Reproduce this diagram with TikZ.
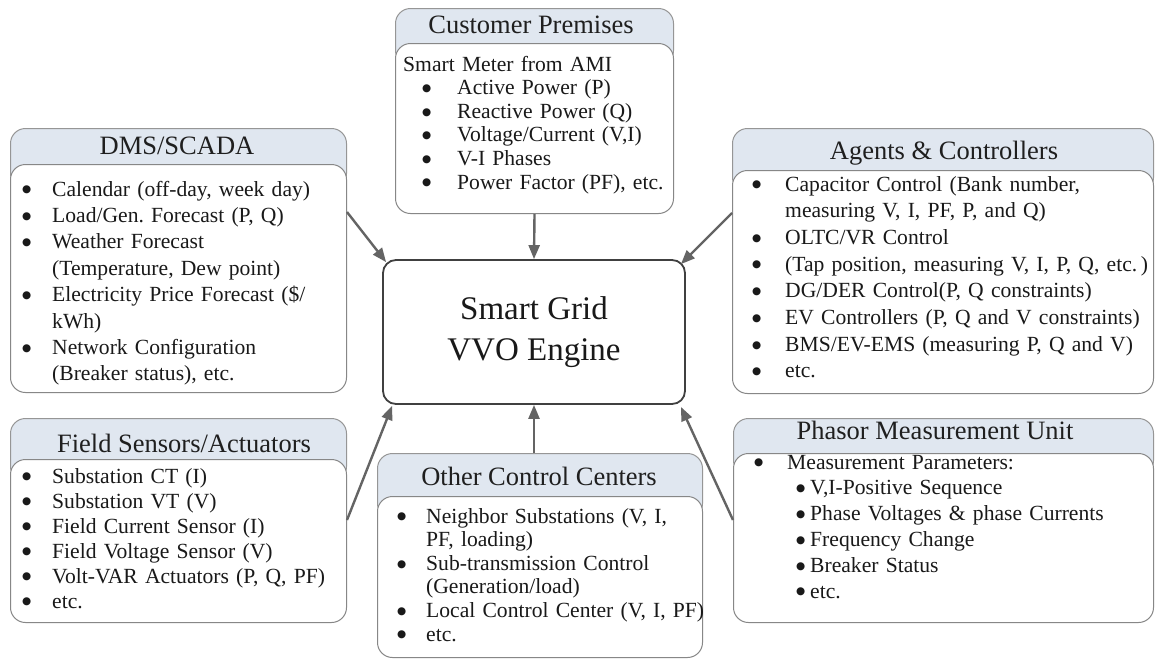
\documentclass[tikz,border=0pt]{standalone}
\usepackage{fontspec}
\setmainfont{Liberation Serif}
\newfontfamily\dotfont{DejaVu Sans}
\usetikzlibrary{arrows.meta,calc}

\definecolor{hdrfill}{RGB}{224,231,240}
\definecolor{hdrline}{RGB}{150,150,150}
\definecolor{boxline}{RGB}{135,135,135}
\definecolor{coreline}{RGB}{64,64,64}
\definecolor{arrowgrey}{RGB}{100,100,100}

\newlength{\bulletgap}
\newcommand{\dotmark}{\raisebox{3.2pt}{\dotfont\fontsize{10.5}{10.5}\selectfont ●}}
\newcommand{\bul}[1]{\makebox[\bulletgap][l]{\dotmark}#1}
\newcommand{\cont}[1]{\hspace*{\bulletgap}#1}
\newcommand{\subbul}[1]{\hspace*{42pt}\makebox[14pt][l]{\dotmark}#1}

\tikzset{
  panelhead/.style={draw=hdrline, line width=1pt, fill=hdrfill, rounded corners=15pt,
    anchor=north west, inner sep=0pt},
  panelbody/.style={draw=boxline, line width=1pt, fill=white, rounded corners=15pt,
    anchor=north west, inner sep=0pt},
  headtext/.style={anchor=base, inner sep=0pt, text=black!88,
    font=\fontsize{26.5}{30}\selectfont},
  listtext/.style={anchor=base west, inner sep=0pt, text width=430pt, align=left,
    text=black!90},
  engine/.style={draw=coreline, line width=1.8pt, rounded corners=13pt, fill=white,
    minimum width=302pt, minimum height=144pt, inner sep=0pt, align=center,
    text=black!90, font=\fontsize{33}{41}\selectfont},
  feed/.style={draw=arrowgrey, line width=2.4pt, -{Triangle[length=14pt,width=11pt]}},
}

\begin{document}
\frenchspacing
\begin{tikzpicture}[x=1pt, y=-1pt]
  \fill[white] (0,0) rectangle (1155,659);
  \useasboundingbox (0,0) rectangle (1155,659);

  % DMS/SCADA
  \node[panelhead, minimum width=336pt, minimum height=60pt] (dmshead) at (10,128) {};
  \node[panelbody, minimum width=336pt, minimum height=228pt] (dmsbody) at (10,164) {};
  \node[headtext] (dmstitle) at (177,154) {DMS/SCADA};
  \node[listtext, font=\fontsize{21.6}{26.4}\selectfont] (dmslist) at (22,196) {%
    \setlength{\bulletgap}{30pt}%
    \bul{Calendar (off-day, week day)}\\
    \bul{Load/Gen. Forecast (P, Q)}\\
    \bul{Weather Forecast}\\
    \cont{(Temperature, Dew point)}\\
    \bul{Electricity Price Forecast (\$/}\\
    \cont{kWh)}\\
    \bul{Network Configuration}\\
    \cont{(Breaker status), etc.}};

  % Customer Premises
  \node[panelhead, minimum width=278pt, minimum height=57pt] (cushead) at (395,8) {};
  \node[panelbody, minimum width=278pt, minimum height=170pt] (cusbody) at (395,43) {};
  \node[headtext] (custitle) at (531,33) {Customer Premises};
  \node[listtext, font=\fontsize{21.6}{23.6}\selectfont] (cuslist) at (403,71) {%
    \setlength{\bulletgap}{35pt}%
    Smart Meter from AMI\\
    \hspace*{19pt}\bul{Active Power (P)}\\
    \hspace*{19pt}\bul{Reactive Power (Q)}\\
    \hspace*{19pt}\bul{Voltage/Current (V,I)}\\
    \hspace*{19pt}\bul{V-I Phases}\\
    \hspace*{19pt}\bul{Power Factor (PF), etc.}};

  % Agents & Controllers
  \node[panelhead, minimum width=421pt, minimum height=64pt] (aghead) at (732,128) {};
  \node[panelbody, minimum width=421pt, minimum height=223pt] (agbody) at (732,170) {};
  \node[headtext] (agtitle) at (944,159) {Agents \& Controllers};
  \node[listtext, font=\fontsize{21.6}{26.7}\selectfont] (aglist) at (752,191) {%
    \setlength{\bulletgap}{33pt}%
    \bul{Capacitor Control (Bank number,}\\
    \cont{measuring V, I, PF, P, and Q)}\\
    \bul{OLTC/VR Control}\\
    \bul{(Tap position, measuring V, I, P, Q, etc.\,)}\\
    \bul{DG/DER Control(P, Q constraints)}\\
    \bul{EV Controllers (P, Q and V constraints)}\\
    \bul{BMS/EV-EMS (measuring P, Q and V)}\\
    \bul{etc.}};

  % Field Sensors/Actuators
  \node[panelhead, minimum width=336pt, minimum height=63pt] (fldhead) at (10,418) {};
  \node[panelbody, minimum width=336pt, minimum height=163pt] (fldbody) at (10,459) {};
  \node[headtext] (fldtitle) at (184,452) {Field Sensors/Actuators};
  \node[listtext, font=\fontsize{21.6}{25}\selectfont] (fldlist) at (22,483) {%
    \setlength{\bulletgap}{30pt}%
    \bul{Substation CT (I)}\\
    \bul{Substation VT (V)}\\
    \bul{Field Current Sensor (I)}\\
    \bul{Field Voltage Sensor (V)}\\
    \bul{Volt-VAR Actuators (P, Q, PF)}\\
    \bul{etc.}};

  % Other Control Centers
  \node[panelhead, minimum width=325pt, minimum height=65pt] (othhead) at (377,453) {};
  \node[panelbody, minimum width=325pt, minimum height=161pt] (othbody) at (377,496) {};
  \node[headtext] (othtitle) at (539,485) {Other Control Centers};
  \node[listtext, font=\fontsize{21.6}{23.6}\selectfont] (othlist) at (397,523) {%
    \setlength{\bulletgap}{29pt}%
    \bul{Neighbor Substations (V, I,}\\
    \cont{PF, loading)}\\
    \bul{Sub-transmission Control}\\
    \cont{(Generation/load)}\\
    \bul{Local Control Center (V, I, PF)}\\
    \bul{etc.}};

  % Phasor Measurement Unit
  \node[panelhead, minimum width=420pt, minimum height=57pt] (pmuhead) at (733,418) {};
  \node[panelbody, minimum width=420pt, minimum height=169pt] (pmubody) at (733,453) {};
  \node[headtext] (pmutitle) at (935,439) {Phasor Measurement Unit};
  \node[listtext, font=\fontsize{21.6}{25.8}\selectfont] (pmulist) at (754,469) {%
    \setlength{\bulletgap}{33pt}%
    \bul{Measurement Parameters:}\\
    \subbul{V,I-Positive Sequence}\\
    \subbul{Phase Voltages \& phase Currents}\\
    \subbul{Frequency Change}\\
    \subbul{Breaker Status}\\
    \subbul{etc.}};

  % Central engine
  \node[engine] (vvo) at (534,332) {Smart Grid\\VVO Engine};

  % Data feeds into the engine
  \draw[feed] ($(dmsbody.north east)+(0,48)$) -- ($(vvo.north west)+(4,3)$);
  \draw[feed] (cusbody.south) -- (vvo.north);
  \draw[feed] ($(agbody.north west)+(0,43)$) -- ($(vvo.north east)+(-5,5)$);
  \draw[feed] ($(fldbody.north east)+(0,61)$) -- ($(vvo.south west)+(10,1)$);
  \draw[feed] (othhead.north -| vvo.south) -- (vvo.south);
  \draw[feed] ($(pmubody.north west)+(0,67)$) -- ($(vvo.south east)+(-5,2)$);
\end{tikzpicture}
\end{document}
